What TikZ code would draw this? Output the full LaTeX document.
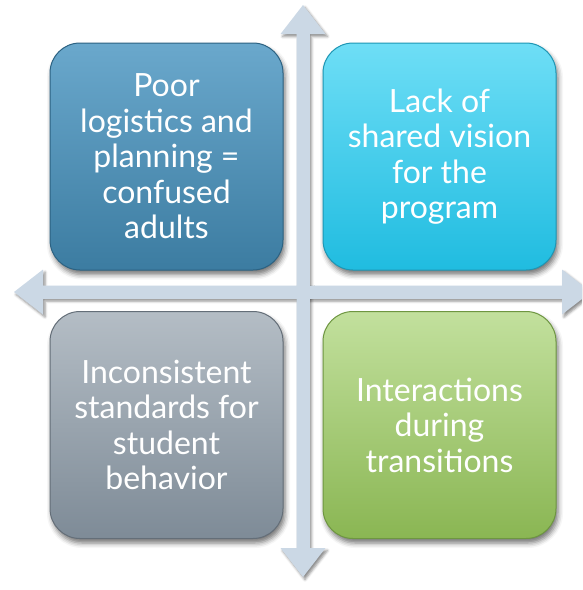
\documentclass[tikz,border=0pt]{standalone}
\usepackage{fontspec}
\setmainfont{Lato}
\usetikzlibrary{shadows.blur}

\definecolor{axisfill}{RGB}{203,216,229}
\definecolor{tlTop}{RGB}{106,168,204}
\definecolor{tlBot}{RGB}{60,124,161}
\definecolor{tlLine}{RGB}{44,98,130}
\definecolor{trTop}{RGB}{110,222,246}
\definecolor{trBot}{RGB}{32,188,224}
\definecolor{trLine}{RGB}{30,150,180}
\definecolor{blTop}{RGB}{180,189,197}
\definecolor{blBot}{RGB}{126,139,151}
\definecolor{blLine}{RGB}{100,110,120}
\definecolor{brTop}{RGB}{194,224,157}
\definecolor{brBot}{RGB}{138,182,83}
\definecolor{brLine}{RGB}{110,150,65}

\tikzset{
  quadbox/.style={
    minimum width=233pt, minimum height=227pt, inner sep=0pt,
    rounded corners=30pt, line width=1pt,
    align=center, text=white,
    font=\fontsize{32}{35.5}\selectfont,
    blur shadow={shadow xshift=2pt, shadow yshift=-4.5pt,
                 shadow blur radius=5pt, shadow opacity=55}
  },
  axisshape/.style={fill=axisfill,
    blur shadow={shadow xshift=2pt, shadow yshift=-2.5pt,
                 shadow blur radius=2.5pt, shadow opacity=45}}
}

\begin{document}
\begin{tikzpicture}[x=1pt,y=-1pt]
  \useasboundingbox (0,0) rectangle (582,590);
  \clip (0,0) rectangle (582,590);

  % centre of the cross
  \coordinate (c) at (303,292);

  % horizontal double arrow
  \path[axisshape]
    (14,292) -- (43,269.5) -- (43,285.5) -- (562,285.5) -- (562,269.5)
    -- (591,292) -- (562,314.5) -- (562,298.5) -- (43,298.5) -- (43,314.5) -- cycle;
  % vertical double arrow
  \path[axisshape]
    (303,5) -- (325.5,34) -- (309.5,34) -- (309.5,548) -- (325.5,548)
    -- (303,577) -- (280.5,548) -- (296.5,548) -- (296.5,34) -- (280.5,34) -- cycle;
  % shafts redrawn so the crossing is clean
  \fill[axisfill] (43,285.5) rectangle (562,298.5);
  \fill[axisfill] (296.5,34) rectangle (309.5,548);

  % quadrants
  \node[quadbox, top color=tlTop, bottom color=tlBot, draw=tlLine] (tl) at (166.5,156.5)
    {Poor\\logistics and\\planning =\\confused\\adults};
  \node[quadbox, top color=trTop, bottom color=trBot, draw=trLine] (tr) at (439.5,156.5)
    {Lack of\\shared vision\\for the\\program};
  \node[quadbox, top color=blTop, bottom color=blBot, draw=blLine] (bl) at (166.5,425)
    {Inconsistent\\standards for\\student\\behavior};
  \node[quadbox, top color=brTop, bottom color=brBot, draw=brLine] (br) at (439.5,425)
    {Interactions\\during\\transitions};
\end{tikzpicture}
\end{document}
